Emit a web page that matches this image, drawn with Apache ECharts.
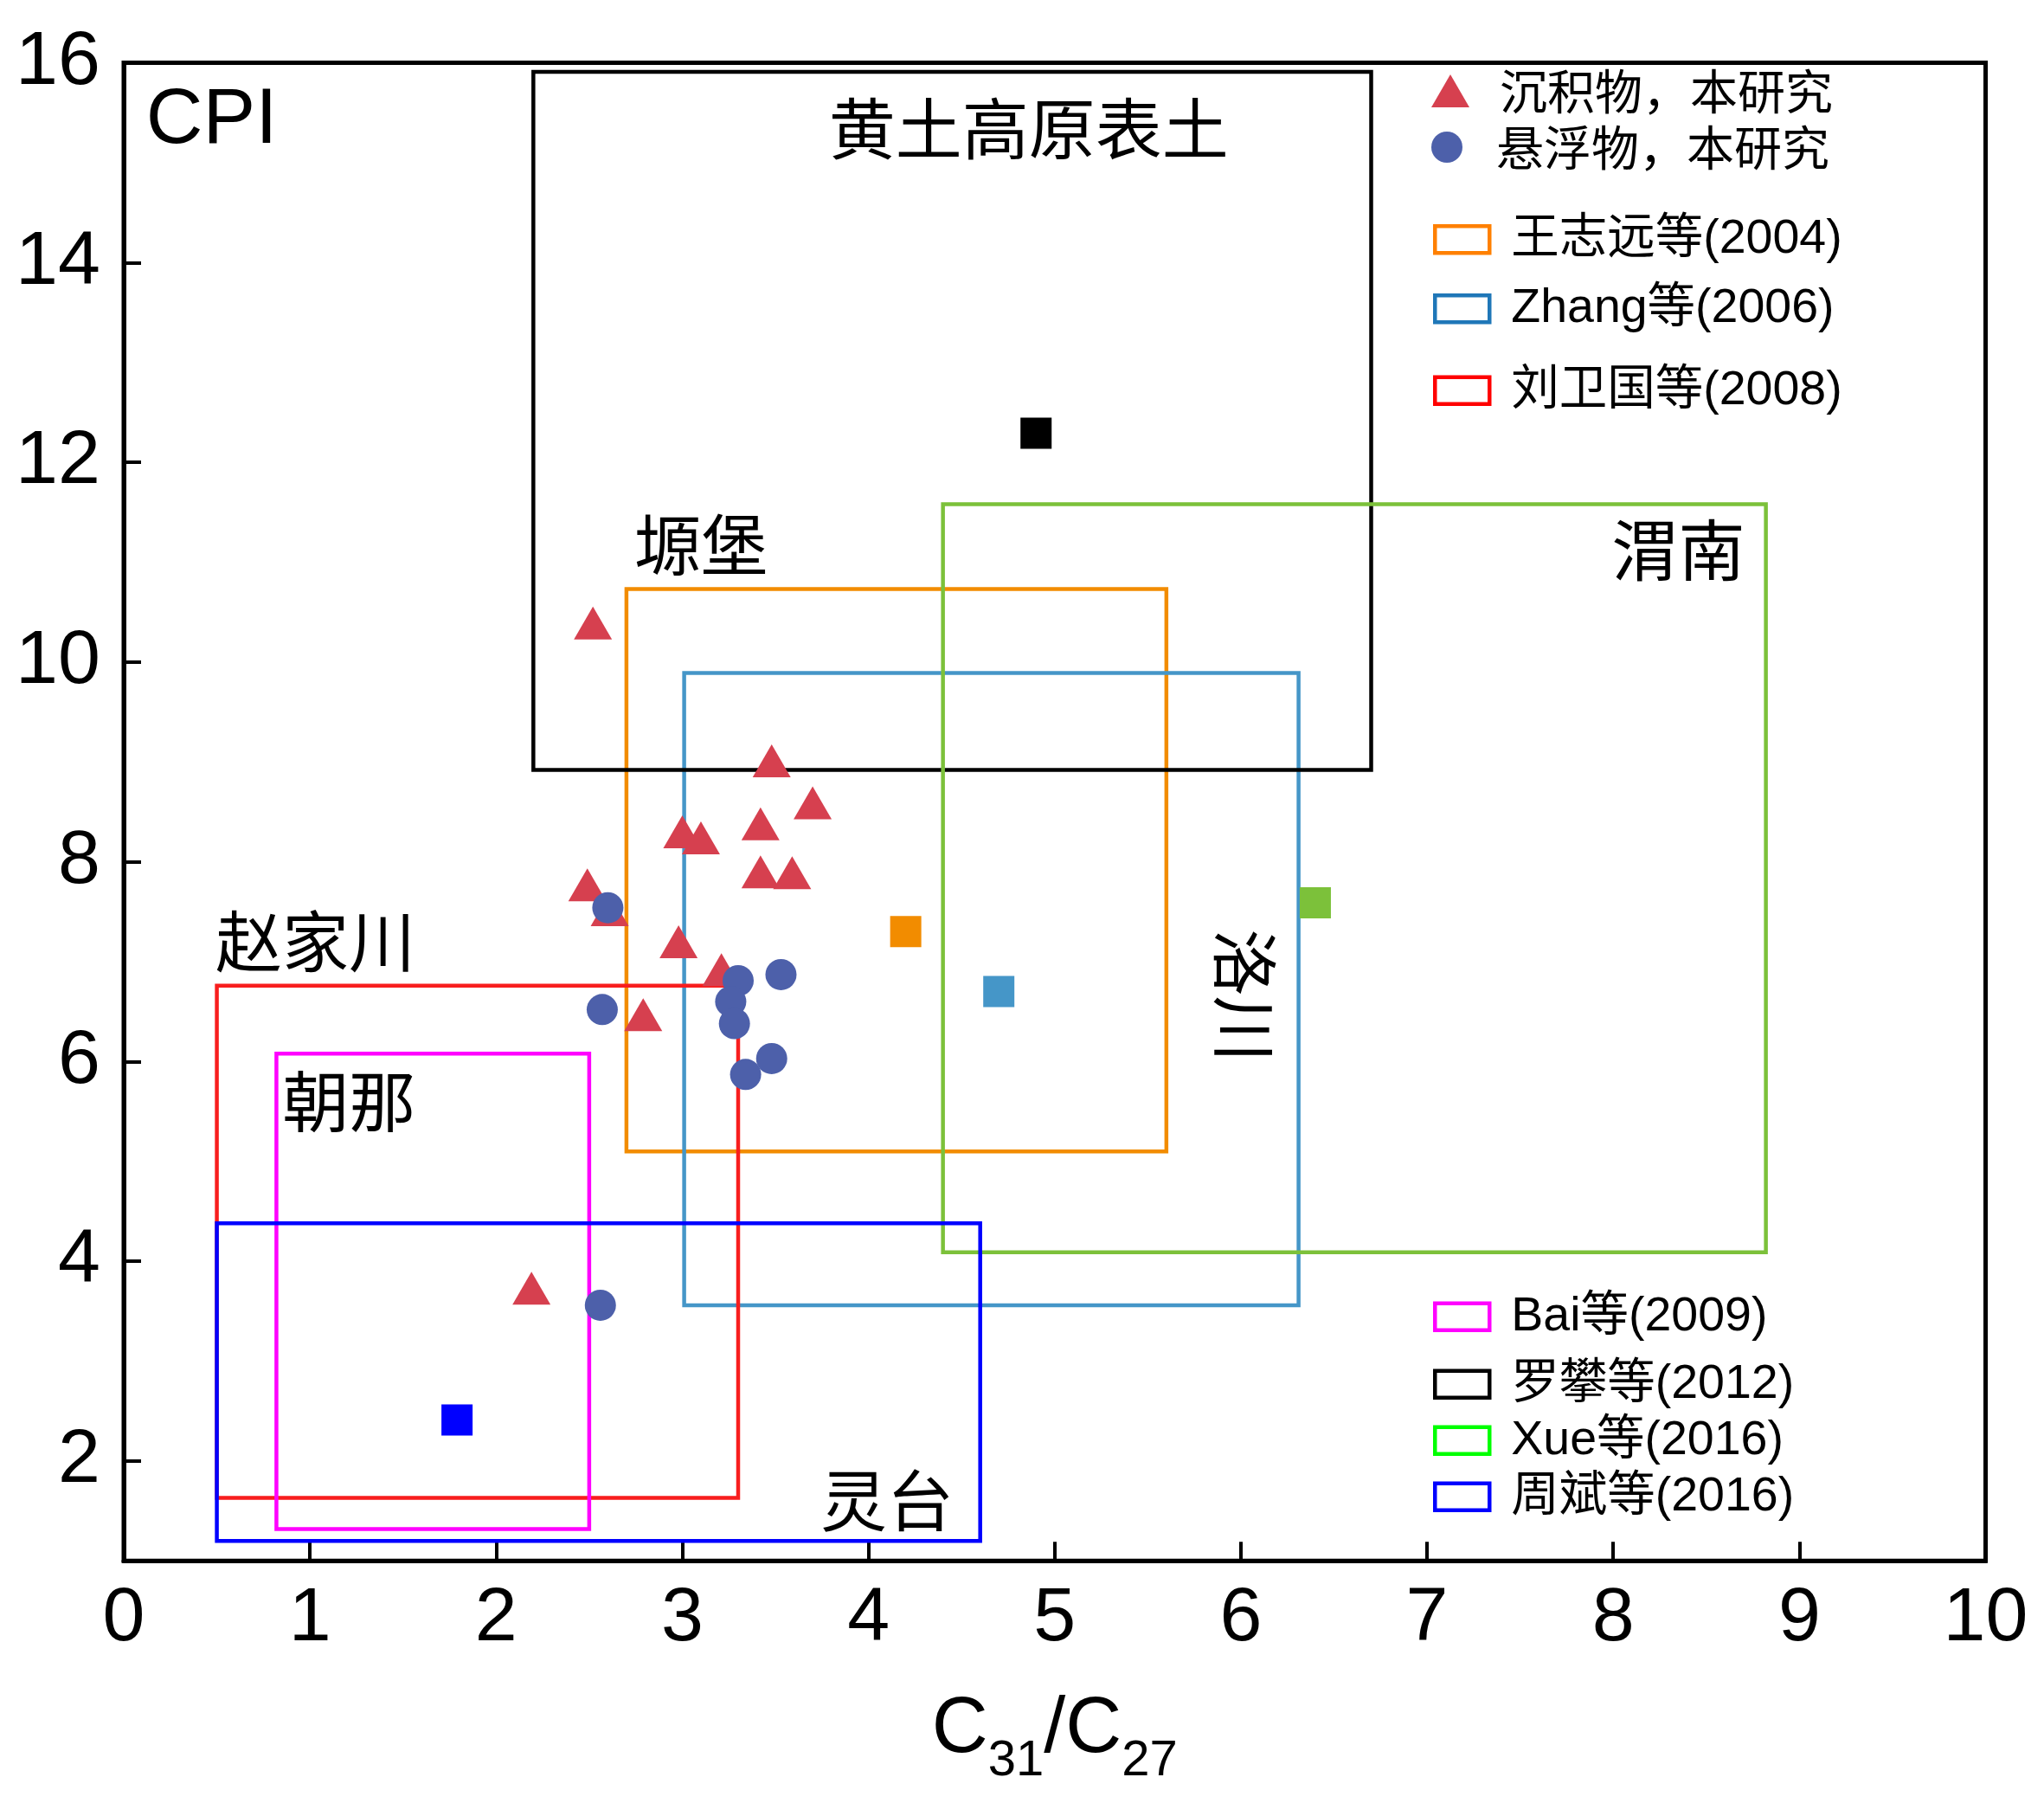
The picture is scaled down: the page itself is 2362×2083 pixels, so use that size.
<!DOCTYPE html>
<html>
<head>
<meta charset="utf-8">
<script src="https://cdn.jsdelivr.net/npm/echarts@6/dist/echarts.min.js"></script>
<style>
html,body{margin:0;padding:0;background:#fff;}
#c{width:2362px;height:2083px;}
</style>
</head>
<body>
<div id="c"></div>
<script>
// ---------------- data ----------------
const xTickValues = [0, 1, 2, 3, 4, 5, 6, 7, 8, 9, 10];
const yTickValues = [2, 4, 6, 8, 10, 12, 14, 16];

const sedimentName = '沉积物，本研究';
const sedimentX = [2.52, 3.48, 3.70, 3.42, 3.00, 3.10, 3.42, 3.59, 2.49, 2.61, 2.98, 3.21, 2.79, 2.19];
const sedimentY = [10.39, 9.01, 8.59, 8.38, 8.30, 8.24, 7.90, 7.89, 7.77, 7.52, 7.20, 6.92, 6.47, 3.73];

const suspendedName = '悬浮物，本研究';
const suspendedX = [2.60, 3.30, 3.53, 3.26, 3.28, 2.57, 3.48, 3.34, 2.56];
const suspendedY = [7.54, 6.81, 6.87, 6.60, 6.38, 6.52, 6.03, 5.87, 3.56];

const studyNames = ['王志远等(2004)', 'Zhang等(2006)', '刘卫国等(2008)', 'Bai等(2009)', '罗攀等(2012)', 'Xue等(2016)', '周斌等(2016)'];
const boxXMin = [2.70, 3.01, 0.50, 0.82, 2.20, 4.40, 0.50];
const boxXMax = [5.60, 6.31, 3.30, 2.50, 6.70, 8.82, 4.60];
const boxYMin = [5.10, 3.56, 1.63, 1.32, 8.92, 4.09, 1.20];
const boxYMax = [10.73, 9.89, 6.76, 6.08, 15.91, 11.58, 4.38];
const meanX = [4.20, 4.70, null, null, 4.90, 6.40, 1.79];
const meanY = [7.30, 6.70, null, null, 12.29, 7.59, 2.41];

const siteNames = ['黄土高原表土', '塬堡', '渭南', '赵家川', '朝那', '灵台', '洛川'];
const siteX = [4.86, 3.10, 8.35, 1.03, 1.21, 4.10, 6.02];
const siteY = [15.34, 11.17, 11.12, 7.20, 5.60, 1.60, 6.66];

const panelLabel = 'CPI';
const panelLabelX = 0.12;
const panelLabelY = 15.42;

// ---------------- styles ----------------
const boxColors = ['#F28C00', '#4596C8', '#F81E1E', '#FF00FF', '#000000', '#7CC13A', '#0000FF'];
const legendColors = ['#FF8000', '#1F77B8', '#FF0000', '#FF00FF', '#000000', '#00FF00', '#0000FF'];
const legendCenters = [276.5, 356.5, 451, 1521, 1599, 1664, 1729];
const latin = "'Liberation Sans', 'Noto Sans CJK SC', sans-serif";
const cjk = "'Noto Sans CJK SC', 'Liberation Sans', sans-serif";

const series = [];

// boxes
studyNames.forEach((name, i) => {
  const x0 = boxXMin[i], x1 = boxXMax[i], y0 = boxYMin[i], y1 = boxYMax[i];
  series.push({
    name: name,
    type: 'line',
    symbol: 'none',
    silent: true,
    z: 2,
    lineStyle: { color: boxColors[i], width: 4.5, join: 'miter', cap: 'square' },
    itemStyle: { color: boxColors[i] },
    emphasis: { disabled: true },
    data: [[x0, y0], [x1, y0], [x1, y1], [x0, y1], [x0, y0]]
  });
});

// points
series.push({
  name: sedimentName,
  type: 'scatter',
  symbol: 'triangle',
  symbolSize: [44, 38],
  z: 4,
  itemStyle: { color: '#D6404F', opacity: 1 },
  emphasis: { disabled: true },
  data: sedimentX.map((x, i) => [x, sedimentY[i]])
});
series.push({
  name: suspendedName,
  type: 'scatter',
  symbol: 'circle',
  symbolSize: 36,
  z: 5,
  itemStyle: { color: '#4D60AA', opacity: 1 },
  emphasis: { disabled: true },
  data: suspendedX.map((x, i) => [x, suspendedY[i]])
});

// study means
studyNames.forEach((name, i) => {
  if (meanX[i] == null) return;
  series.push({
    name: name,
    type: 'scatter',
    symbol: 'rect',
    symbolSize: 36,
    z: 6,
    itemStyle: { color: boxColors[i], opacity: 1 },
    emphasis: { disabled: true },
    data: [[meanX[i], meanY[i]]]
  });
});

// site annotations
series.push({
  type: 'scatter',
  silent: true,
  symbolSize: 1,
  z: 7,
  itemStyle: { color: '#ffffff', opacity: 1 },
  label: {
    show: true, position: 'inside', formatter: '{b}', opacity: 1,
    fontSize: 77, fontFamily: cjk, fontWeight: 'normal', color: '#000000', textBorderWidth: 0
  },
  data: siteNames.map((n, i) => ({
    name: n,
    value: [siteX[i], siteY[i]],
    label: n === '洛川' ? { rotate: -90 } : {}
  }))
});
series.push({
  type: 'scatter',
  silent: true,
  symbolSize: 1,
  z: 7,
  itemStyle: { color: '#ffffff', opacity: 1 },
  label: {
    show: true, position: 'inside', align: 'left', formatter: '{b}', opacity: 1,
    fontSize: 91, fontFamily: latin, color: '#000000', textBorderWidth: 0
  },
  data: [{ name: panelLabel, value: [panelLabelX, panelLabelY] }]
});

// legends
const legends = [];
legends.push({
  padding: 0, left: 1654, top: 105 - 27.5, itemWidth: 44, itemHeight: 38, selectedMode: false,
  textStyle: { fontSize: 55, fontFamily: cjk, color: '#000', padding: [0, 0, 0, 30] },
  data: [{ name: sedimentName, icon: 'triangle' }]
});
legends.push({
  padding: 0, left: 1654, top: 170 - 27.5, itemWidth: 44, itemHeight: 36, selectedMode: false,
  textStyle: { fontSize: 55, fontFamily: cjk, color: '#000', padding: [0, 0, 0, 30] },
  data: [{ name: suspendedName, icon: 'circle' }]
});
studyNames.forEach((name, i) => {
  legends.push({
    padding: 0, left: 1656, top: legendCenters[i] - 27.5, itemWidth: 63, itemHeight: 31, selectedMode: false,
    textStyle: { fontSize: 55.5, fontFamily: latin, color: '#000', padding: [0, 0, 0, 20] },
    data: [{
      name: name, icon: 'rect',
      itemStyle: { color: 'rgba(0,0,0,0)', borderColor: legendColors[i], borderWidth: 4.5 }
    }]
  });
});

const option = {
  animation: false,
  backgroundColor: '#fff',
  grid: {
    left: 143, top: 72.5, width: 2151.5, height: 1730.8,
    show: true, borderColor: '#000', borderWidth: 5, backgroundColor: 'rgba(0,0,0,0)'
  },
  legend: legends,
  xAxis: {
    type: 'value', min: xTickValues[0], max: xTickValues[xTickValues.length - 1], interval: 1,
    axisLine: { show: true, onZero: false, lineStyle: { color: '#000', width: 5 } },
    axisTick: { show: true, inside: true, length: 22, lineStyle: { color: '#000', width: 4 } },
    splitLine: { show: false },
    axisLabel: { margin: 23, fontSize: 88, fontFamily: latin, color: '#000' },
    name: '{m|C}{s|31}{m|/C}{s|27}',
    nameLocation: 'middle',
    nameGap: 151,
    nameTextStyle: {
      color: '#000', fontFamily: latin, fontSize: 90,
      rich: {
        m: { fontSize: 90, lineHeight: 90, verticalAlign: 'top', fontFamily: latin, color: '#000' },
        s: { fontSize: 58, lineHeight: 162, verticalAlign: 'middle', fontFamily: latin, color: '#000' }
      }
    }
  },
  yAxis: {
    type: 'value', min: 1, max: 16,
    axisLine: { show: true, onZero: false, lineStyle: { color: '#000', width: 5 } },
    axisTick: { show: true, inside: true, length: 20, customValues: yTickValues, lineStyle: { color: '#000', width: 4 } },
    splitLine: { show: false },
    axisLabel: { margin: 27, fontSize: 88, fontFamily: latin, color: '#000', customValues: yTickValues }
  },
  series: series
};

const chart = echarts.init(document.getElementById('c'), null, { renderer: 'canvas', width: 2362, height: 2083 });
chart.setOption(option);
</script>
</body>
</html>
